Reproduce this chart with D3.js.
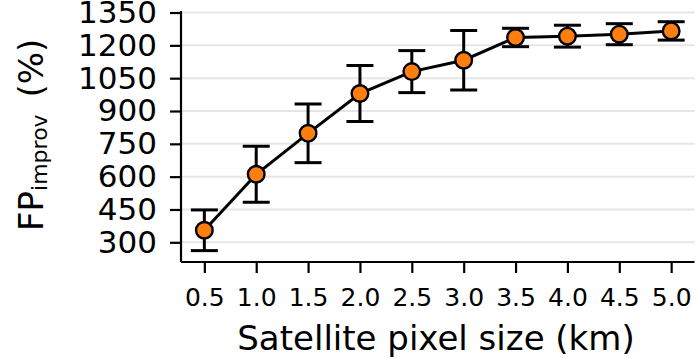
<!DOCTYPE html>
<html>
<head>
<meta charset="utf-8">
<script src="https://cdn.jsdelivr.net/npm/d3@7"></script>
<style>
  html, body { margin: 0; padding: 0; background: #fff; }
  svg { display: block; font-family: "DejaVu Sans", sans-serif; }
</style>
</head>
<body>
<svg id="chart" width="699" height="358"></svg>
<script>
// Satellite pixel size (km) and the mean FP improvement with its spread
const pixelSizes = [0.5, 1.0, 1.5, 2.0, 2.5, 3.0, 3.5, 4.0, 4.5, 5.0];
const fpImprov   = [355, 611, 798, 980, 1080, 1132, 1236, 1242, 1251, 1266];
const fpError    = [93, 128, 134, 128, 96, 136, 42, 50, 48, 42];
const yTicks     = [300, 450, 600, 750, 900, 1050, 1200, 1350];

const svg = d3.select("#chart");
const plotL = 181, plotR = 694.5, plotT = 11, plotB = 262;

const x = d3.scaleLinear().domain([0.275, 5.225]).range([plotL, plotR]);
const y = d3.scaleLinear().domain([210, 1357]).range([plotB, plotT]);

// horizontal grid
svg.append("g")
  .selectAll("line")
  .data(yTicks)
  .join("line")
  .attr("x1", plotL).attr("x2", plotR)
  .attr("y1", d => y(d)).attr("y2", d => y(d))
  .attr("stroke", "#e6e6e6")
  .attr("stroke-width", 2);

// axes
const yAxis = svg.append("g")
  .attr("transform", `translate(${plotL},0)`)
  .call(d3.axisLeft(y).tickValues(yTicks).tickSize(11).tickPadding(13).tickFormat(d3.format("d")));
const xAxis = svg.append("g")
  .attr("transform", `translate(0,${plotB})`)
  .call(d3.axisBottom(x).tickValues(pixelSizes).tickSize(11).tickPadding(15).tickFormat(d3.format(".1f")));

[yAxis, xAxis].forEach(g => {
  g.select(".domain").attr("stroke", "#000").attr("stroke-width", 2.2);
  g.selectAll(".tick line").attr("stroke", "#000").attr("stroke-width", 2.2);
  g.selectAll(".tick text").attr("fill", "#000").attr("font-family", "DejaVu Sans");
});
yAxis.selectAll(".tick text").attr("font-size", 31);
xAxis.selectAll(".tick text").attr("font-size", 25);
// keep the spines to the plotting box only
yAxis.select(".domain").attr("d", `M0,${plotB}V${plotT}`);
xAxis.select(".domain").attr("d", `M${plotL},0H${plotR}`);

// connecting line
svg.append("path")
  .datum(pixelSizes.map((p, i) => [p, fpImprov[i]]))
  .attr("fill", "none")
  .attr("stroke", "#000")
  .attr("stroke-width", 3)
  .attr("d", d3.line().x(d => x(d[0])).y(d => y(d[1])));

// error bars
const eb = svg.append("g").attr("stroke", "#000").attr("stroke-width", 3);
pixelSizes.forEach((p, i) => {
  const cx = x(p), lo = y(fpImprov[i] - fpError[i]), hi = y(fpImprov[i] + fpError[i]);
  eb.append("line").attr("x1", cx).attr("x2", cx).attr("y1", lo).attr("y2", hi);
  eb.append("line").attr("x1", cx - 13.5).attr("x2", cx + 13.5).attr("y1", lo).attr("y2", lo);
  eb.append("line").attr("x1", cx - 13.5).attr("x2", cx + 13.5).attr("y1", hi).attr("y2", hi);
});

// markers
svg.append("g")
  .selectAll("circle")
  .data(pixelSizes)
  .join("circle")
  .attr("cx", d => x(d))
  .attr("cy", (d, i) => y(fpImprov[i]))
  .attr("r", 8.3)
  .attr("fill", "#ff7f0e")
  .attr("stroke", "#000")
  .attr("stroke-width", 2.4);

// axis titles
svg.append("text")
  .attr("x", 436)
  .attr("y", 350)
  .attr("text-anchor", "middle")
  .attr("font-size", 34)
  .attr("fill", "#000")
  .text("Satellite pixel size (km)");

const yl = svg.append("text")
  .attr("transform", "translate(43,231) rotate(-90)")
  .attr("text-anchor", "start")
  .attr("font-size", 34)
  .attr("fill", "#000");
yl.append("tspan").text("FP");
yl.append("tspan").attr("font-size", 22).attr("dy", 4).text("improv");
yl.append("tspan").attr("dy", -4).attr("dx", 6).text(" (%)");
</script>
</body>
</html>
